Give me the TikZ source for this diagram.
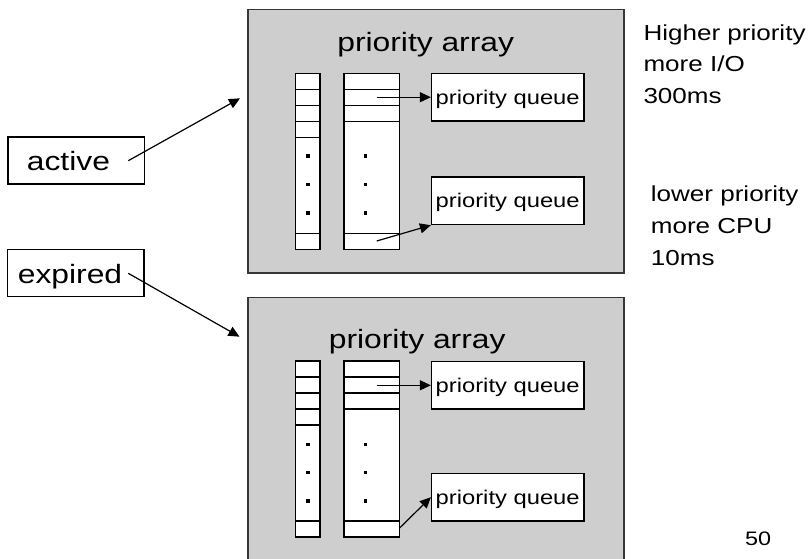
\documentclass[tikz,border=0pt]{standalone}
\usepackage{fontspec}
\setmainfont{Liberation Sans}
\usetikzlibrary{arrows.meta}
\newcommand{\hstretch}[1]{\scalebox{1.2}[1]{#1}}
\definecolor{panelgray}{RGB}{206,206,206}
\definecolor{paneledge}{RGB}{55,55,55}

\begin{document}
\begin{tikzpicture}[x=1pt,y=-1pt,
  panel/.style={rectangle,draw=paneledge,fill=panelgray,line width=1.6pt,inner sep=0pt},
  column/.style={rectangle,draw=black,fill=white,line width=1.3pt,inner sep=0pt,minimum height=176pt},
  narrowcol/.style={column,minimum width=24.3pt},
  widecol/.style={column,minimum width=55.3pt},
  queuebox/.style={rectangle,draw=black,fill=white,line width=1.3pt,inner sep=0pt,
    minimum width=152.3pt,minimum height=47.5pt},
  namebox/.style={rectangle,draw=black,fill=white,line width=1.3pt,inner sep=0pt,
    minimum width=136.5pt,minimum height=47pt},
  txt/.style={inner sep=0pt,anchor=base,text=black},
  bigtxt/.style={txt,font=\fontsize{26.5}{30}\selectfont},
  qtxt/.style={txt,font=\fontsize{19.8}{23}\selectfont},
  sidetxt/.style={txt,anchor=base west,font=\fontsize{21.7}{25}\selectfont},
  divider/.style={draw=black,line width=1.3pt},
  link/.style={draw=black,line width=1.2pt,-{Triangle[length=11pt,width=10pt]}},
  dot/.style={fill=black}
]
\useasboundingbox (0,0) rectangle (812,558);

% ---------- upper priority array ----------
\node[panel,minimum width=376.3pt,minimum height=263.4pt] (toppanel) at (435.85,141) {};
\node[bigtxt] (toptitle) at (425.7,51.7) {\hstretch{priority array}};
\node[narrowcol] (topnarrow) at (307.85,161.3) {};
\node[widecol]   (topwide)   at (371.65,161.3) {};
\foreach \yy in {89.3,105.3,121.3,137.3,233.3}
  \draw[divider] (topnarrow.west |- 0,\yy) -- (topnarrow.east |- 0,\yy);
\foreach \yy in {89.3,105.3,121.3,233.3}
  \draw[divider] (topwide.west |- 0,\yy) -- (topwide.east |- 0,\yy);
\foreach \yy in {156,184.3,213} {
  \fill[dot] (307.85-1.8,\yy-1.8) rectangle (307.85+1.8,\yy+1.8);
  \fill[dot] (365.5-1.8,\yy-1.8) rectangle (365.5+1.8,\yy+1.8);
}
\node[queuebox] (topq1) at (507.7,97.2) {};
\node[qtxt] at ([yshift=-7pt]topq1.center) {\hstretch{priority queue}};
\node[queuebox] (topq2) at (507.7,200.8) {};
\node[qtxt] at ([yshift=-7pt]topq2.center) {\hstretch{priority queue}};
\coordinate (topslotA) at (376.7,97.2);
\coordinate (topslotB) at (376.7,241);
\draw[link] (topslotA) -- (topq1.west);
\draw[link] (topslotB) -- (topq2.south west);

% ---------- lower priority array ----------
\node[panel,minimum width=376.3pt,minimum height=262.7pt] (botpanel) at (435.85,428.65) {};
\node[bigtxt] (bottitle) at (417.2,348.3) {\hstretch{priority array}};
\node[narrowcol] (botnarrow) at (307.85,449) {};
\node[widecol]   (botwide)   at (371.65,449) {};
\foreach \yy in {377,393,409,425,521}
  \draw[divider] (botnarrow.west |- 0,\yy) -- (botnarrow.east |- 0,\yy);
\foreach \yy in {377,393,409,521}
  \draw[divider] (botwide.west |- 0,\yy) -- (botwide.east |- 0,\yy);
\foreach \yy in {444.3,472.3,501} {
  \fill[dot] (307.85-1.8,\yy-1.8) rectangle (307.85+1.8,\yy+1.8);
  \fill[dot] (365.5-1.8,\yy-1.8) rectangle (365.5+1.8,\yy+1.8);
}
\node[queuebox] (botq1) at (507.7,385.3) {};
\node[qtxt] at ([yshift=-7pt]botq1.center) {\hstretch{priority queue}};
\node[queuebox] (botq2) at (507.7,497.2) {};
\node[qtxt] at ([yshift=-7pt]botq2.center) {\hstretch{priority queue}};
\coordinate (botslotA) at (376.7,385.3);
\coordinate (botslotB) at (399.3,528.3);
\draw[link] (botslotA) -- (botq1.west);
\draw[link] (botslotB) -- (botq2.west);

% ---------- active / expired pointers ----------
\node[namebox] (activebox) at (76.2,160.5) {};
\node[bigtxt,anchor=base west] (activelbl) at (26.7,170.5) {\hstretch{active}};
\node[namebox] (expiredbox) at (75.8,273.3) {};
\node[bigtxt,anchor=base west] (expiredlbl) at (17.7,283) {\hstretch{expired}};
\coordinate (activeptr) at (128.3,160.7);
\coordinate (activetip) at (240,98.3);
\coordinate (expiredptr) at (128.3,273.3);
\coordinate (expiredtip) at (239.5,336.7);
\draw[link] (activeptr) -- (activetip);
\draw[link] (expiredptr) -- (expiredtip);

% ---------- side notes ----------
\node[sidetxt] (hi1) at (643.3,40)   {\hstretch{Higher priority}};
\node[sidetxt] (hi2) at (643.3,71.7) {\hstretch{more I/O}};
\node[sidetxt] (hi3) at (643.3,103.3){\hstretch{300ms}};
\node[sidetxt] (lo1) at (650.7,201.7){\hstretch{lower priority}};
\node[sidetxt] (lo2) at (650.7,233)  {\hstretch{more CPU}};
\node[sidetxt] (lo3) at (650.7,265)  {\hstretch{10ms}};
\node[txt,anchor=base west,font=\fontsize{19.5}{23}\selectfont] (pagenum) at (745,545) {\hstretch{50}};
\end{tikzpicture}
\end{document}
